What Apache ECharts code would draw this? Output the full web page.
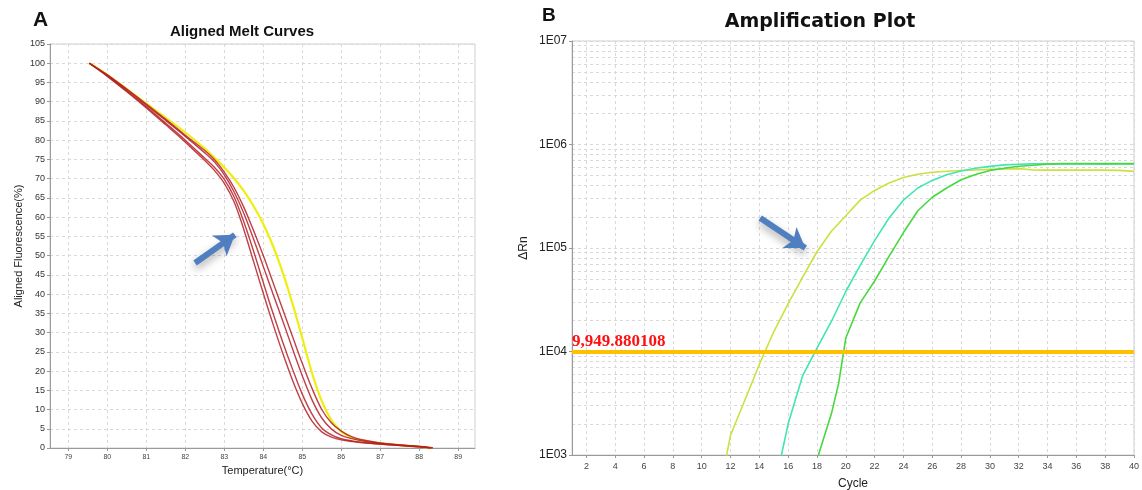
<!DOCTYPE html>
<html><head><meta charset="utf-8">
<script src="https://cdn.jsdelivr.net/npm/echarts@6/dist/echarts.min.js"></script>
<style>html,body{margin:0;padding:0;background:#fff}#c{width:1142px;height:490px}</style>
</head><body><div id="c"></div>
<script>
// ---------- Panel A: Aligned melt curves ----------
const meltTempTicks = [79, 80, 81, 82, 83, 84, 85, 86, 87, 88, 89];
const meltYellow = [[79.54,100],[80.0,97.0],[80.5,93.3],[81.0,89.5],[81.5,85.8],[82.0,82.0],[82.5,77.8],[82.75,75.4],[83.0,72.9],[83.25,70.1],[83.5,66.8],[83.75,62.9],[84.0,58.2],[84.25,52.5],[84.5,45.6],[84.75,37.5],[85.0,28.6],[85.25,19.5],[85.5,12.2],[85.75,7.2],[86.0,4.3],[86.25,2.8],[86.5,2.0],[87.0,1.2],[87.5,0.75],[88.0,0.35],[88.35,0]];
const meltRed1 = [[79.54,100],[80.0,96.6],[80.5,92.6],[81.0,88.4],[81.5,84.0],[82.0,79.5],[82.5,74.7],[82.75,72.1],[83.0,68.8],[83.25,64.0],[83.5,56.8],[83.75,48.5],[84.0,40.2],[84.25,32.2],[84.5,24.6],[84.75,17.6],[85.0,11.6],[85.25,7.0],[85.5,4.2],[85.75,2.8],[86.0,2.1],[86.5,1.4],[87.0,1.0],[87.5,0.65],[88.0,0.3],[88.3,0]];
const meltRed2 = [[79.54,100],[80.0,96.7],[80.5,92.8],[81.0,88.7],[81.5,84.4],[82.0,80.0],[82.5,75.3],[82.75,72.9],[83.0,69.8],[83.25,65.3],[83.5,58.8],[83.75,51.2],[84.0,43.0],[84.25,35.0],[84.5,27.5],[84.75,20.5],[85.0,14.0],[85.25,8.8],[85.5,5.2],[85.75,3.4],[86.0,2.4],[86.5,1.5],[87.0,1.05],[87.5,0.7],[88.0,0.35],[88.3,0]];
const meltRed3 = [[79.54,100],[80.0,96.9],[80.5,93.1],[81.0,89.1],[81.5,85.1],[82.0,81.0],[82.5,76.7],[82.75,74.3],[83.0,71.0],[83.25,66.6],[83.5,61.0],[83.75,54.3],[84.0,47.2],[84.25,40.0],[84.5,33.0],[84.75,25.8],[85.0,18.8],[85.25,12.5],[85.5,7.8],[85.75,4.9],[86.0,3.3],[86.5,1.9],[87.0,1.2],[87.5,0.75],[88.0,0.4],[88.35,0]];
const meltRed4 = [[79.54,100],[80.0,97.0],[80.5,93.3],[81.0,89.4],[81.5,85.4],[82.0,81.3],[82.5,77.3],[82.75,74.9],[83.0,71.7],[83.25,67.7],[83.5,62.6],[83.75,56.5],[84.0,50.0],[84.25,43.0],[84.5,36.0],[84.75,29.0],[85.0,22.0],[85.25,15.5],[85.5,10.0],[85.75,6.5],[86.0,4.4],[86.25,3.0],[86.5,2.2],[87.0,1.3],[87.5,0.8],[88.0,0.4],[88.35,0]];
const arrowA = [[82.25, 48.1], [83.27, 55.4]];

// ---------- Panel B: Amplification plot ----------
const cycleTicks = [2,4,6,8,10,12,14,16,18,20,22,24,26,28,30,32,34,36,38,40];
const ampYellow = [[11.7,950],[12,1550],[13,3400],[14,7500],[15,15500],[16,29000],[17,52000],[18,92000],[19,145000],[20,205000],[21,290000],[22,360000],[23,425000],[24,480000],[25,515000],[26,540000],[27,552000],[28,560000],[29,568000],[30,575000],[31,580000],[32,585000],[33,568000],[34,565000],[35,565000],[36,565000],[37,565000],[38,565000],[39,562000],[40,550000]];
const ampTeal = [[15.5,950],[16,2000],[17,5800],[18,10800],[19,19500],[20,38000],[21,68000],[22,118000],[23,195000],[24,290000],[25,380000],[26,450000],[27,510000],[28,555000],[29,590000],[30,615000],[31,635000],[32,645000],[33,650000],[34,650000],[35,650000],[36,650000],[37,650000],[38,645000],[39,650000],[40,650000]];
const ampGreen = [[18.05,950],[19,2500],[19.5,4900],[20,13500],[21,29500],[22,48000],[23,83000],[24,141000],[25,229000],[26,309000],[27,380000],[28,457000],[29,513000],[30,562000],[31,589000],[32,617000],[33,631000],[34,646000],[35,653000],[36,653000],[37,653000],[38,653000],[39,653000],[40,653000]];
const threshold = 9949.880108;
const thresholdLabel = '9,949.880108';
const logTicks = [1e3, 1e4, 1e5, 1e6, 1e7];
const logTickLabels = ['1E03', '1E04', '1E05', '1E06', '1E07'];
const arrowB = [[14.06, 195000], [17.19, 100000]];

// minor log grid positions (1..9 within each decade)
const logMinor = [];
for (let d = 1e3; d < 1e7; d *= 10) for (let m = 1; m <= 9; m++) logMinor.push(d * m);
logMinor.push(1e7);

const GRID_LINE = { show: true, lineStyle: { color: '#d9d9d9', type: [3, 3], width: 1 } };
const AXIS_LINE = { show: true, lineStyle: { color: '#9a9a9a', width: 1 } };

const chart = echarts.init(document.getElementById('c'), null, { renderer: 'canvas' });

const redStyle = { color: 'rgba(180,30,38,0.85)', width: 1.4 };
function meltSeries(data, style, z) {
  return { type: 'line', xAxisIndex: 0, yAxisIndex: 0, data, showSymbol: false, symbol: 'none', smooth: 0.35, lineStyle: style, z, silent: true };
}
function ampSeries(data, color) {
  return { type: 'line', xAxisIndex: 1, yAxisIndex: 1, data, showSymbol: false, symbol: 'none', lineStyle: { color, width: 1.6 }, z: 3, clip: true, silent: true };
}
const arrowStyle = { color: '#4f7fc0', width: 6, opacity: 1, shadowBlur: 8, shadowColor: 'rgba(0,0,0,0.35)', shadowOffsetY: 4 };

chart.setOption({
  animation: false,
  textStyle: { fontFamily: 'Liberation Sans, Arial, sans-serif' },
  title: [
    { text: 'A', left: 33, top: 10, padding: 0, textStyle: { fontSize: 21, fontWeight: 'bold', color: '#111' } },
    { text: 'Aligned Melt Curves', left: 242, top: 24, padding: 0, textAlign: 'center', textStyle: { fontSize: 15, fontWeight: 'bold', color: '#111' } },
    { text: 'B', left: 542, top: 6, padding: 0, textStyle: { fontSize: 19, fontWeight: 'bold', color: '#111' } },
    { text: 'Amplification Plot', left: 820, top: 13, padding: 0, textAlign: 'center', textStyle: { fontSize: 19, fontWeight: 'bold', color: '#111', fontFamily: 'DejaVu Sans' } }
  ],
  grid: [
    { left: 50, top: 44, width: 425, height: 404, outerBoundsMode: 'none', containLabel: false, show: true, borderColor: '#cfcfcf', borderWidth: 1, backgroundColor: '#fff' },
    { left: 572, top: 41, width: 562, height: 414, outerBoundsMode: 'none', containLabel: false, show: true, borderColor: '#cfcfcf', borderWidth: 1, backgroundColor: '#fff' }
  ],
  xAxis: [
    { type: 'value', gridIndex: 0, min: 78.53, max: 89.43,
      axisLine: AXIS_LINE, axisTick: { show: true, length: 3, customValues: meltTempTicks, lineStyle: { color: '#999' } },
      axisLabel: { customValues: meltTempTicks, fontSize: 7, color: '#444', margin: 6 },
      splitLine: GRID_LINE,
      name: 'Temperature(°C)', nameLocation: 'middle', nameGap: 16, nameTextStyle: { fontSize: 11, color: '#222' } },
    { type: 'value', gridIndex: 1, min: 1, max: 40,
      axisLine: AXIS_LINE, axisTick: { show: true, length: 3, customValues: cycleTicks, lineStyle: { color: '#999' } },
      axisLabel: { customValues: cycleTicks, fontSize: 9, color: '#444', margin: 7 },
      splitLine: GRID_LINE,
      name: 'Cycle', nameLocation: 'middle', nameGap: 23, nameTextStyle: { fontSize: 12, color: '#222' } }
  ],
  yAxis: [
    { type: 'value', gridIndex: 0, min: 0, max: 105, interval: 5,
      axisLine: AXIS_LINE, axisTick: { show: true, length: 3, lineStyle: { color: '#999' } },
      axisLabel: { fontSize: 9, color: '#333', margin: 5 },
      splitLine: GRID_LINE,
      name: 'Aligned Fluorescence(%)', nameLocation: 'middle', nameGap: 26, nameTextStyle: { fontSize: 11, color: '#222' } },
    { type: 'log', logBase: 10, gridIndex: 1, min: 1e3, max: 1e7,
      axisLine: AXIS_LINE, axisTick: { show: true, length: 3, customValues: logTicks, lineStyle: { color: '#999' } },
      axisLabel: { customValues: logTicks, fontSize: 12, color: '#222', margin: 5,
        formatter: v => { const i = logTicks.findIndex(t => Math.abs(t - v) / t < 1e-6); return i >= 0 ? logTickLabels[i] : ''; } },
      splitLine: { show: false },
      name: 'ΔRn', nameLocation: 'middle', nameGap: 42, nameTextStyle: { fontSize: 12, color: '#222' } },
    { type: 'log', logBase: 10, gridIndex: 1, min: 1e3, max: 1e7,
      axisLine: { show: false }, axisTick: { show: false, customValues: logMinor }, axisLabel: { show: false },
      splitLine: GRID_LINE }
  ],
  series: [
    meltSeries(meltYellow, { color: '#eeee10', width: 2.2 }, 3),
    meltSeries(meltRed1, redStyle, 4),
    meltSeries(meltRed2, redStyle, 4),
    meltSeries(meltRed3, redStyle, 4),
    meltSeries(meltRed4, redStyle, 4),
    { type: 'lines', coordinateSystem: 'cartesian2d', xAxisIndex: 0, yAxisIndex: 0, z: 10, silent: true,
      symbol: ['none', 'arrow'], symbolSize: [0, 19],
      lineStyle: arrowStyle, data: [{ coords: arrowA }] },
    ampSeries(ampYellow, '#cde03e'),
    ampSeries(ampTeal, '#3fe6b2'),
    ampSeries(ampGreen, '#47d83f'),
    { type: 'line', xAxisIndex: 1, yAxisIndex: 1, data: [], silent: true,
      markLine: { silent: true, symbol: ['none', 'none'], animation: false,
        lineStyle: { color: '#ffc000', width: 4, type: 'solid' },
        label: { show: true, position: 'insideStartTop', distance: [0, 2], formatter: thresholdLabel,
          color: '#ff1010', fontFamily: 'Liberation Serif, Times New Roman, serif', fontSize: 17, fontWeight: 'bold' },
        data: [{ yAxis: threshold }] } },
    { type: 'lines', coordinateSystem: 'cartesian2d', xAxisIndex: 1, yAxisIndex: 1, z: 10, silent: true,
      symbol: ['none', 'arrow'], symbolSize: [0, 19],
      lineStyle: arrowStyle, data: [{ coords: arrowB }] }
  ]
});
</script></body></html>
